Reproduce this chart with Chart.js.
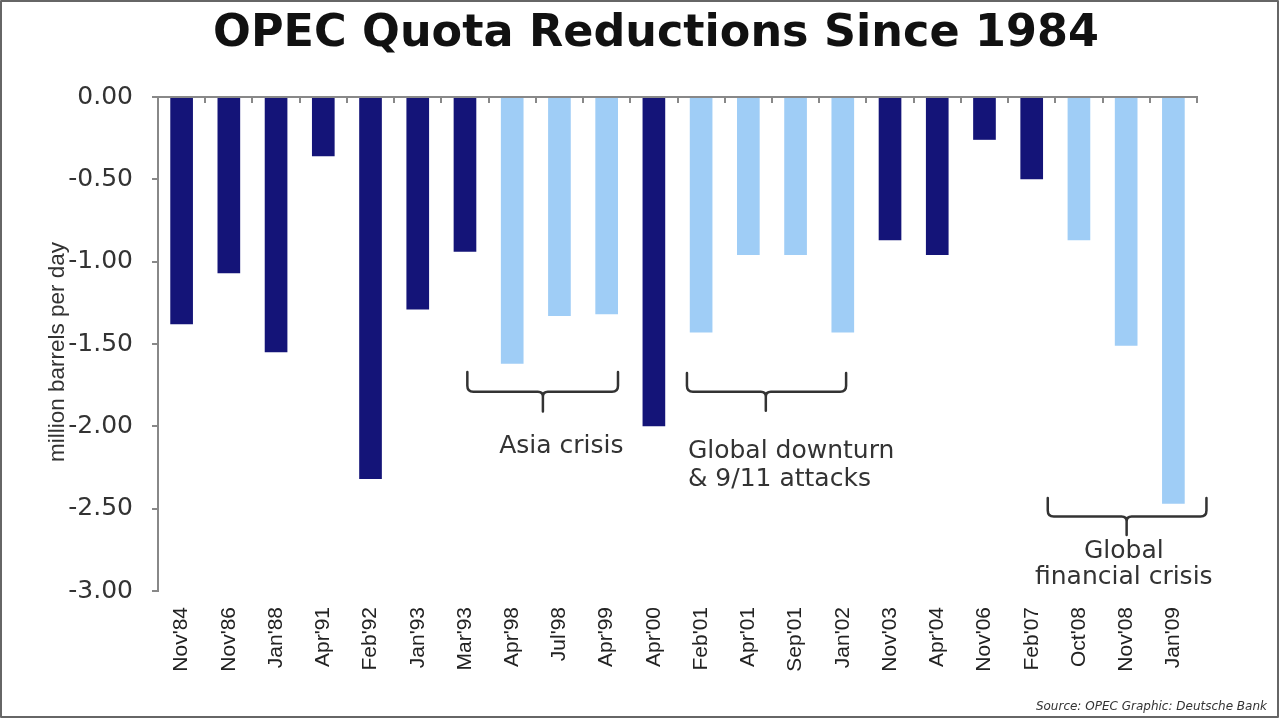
<!DOCTYPE html>
<html>
<head>
<meta charset="utf-8">
<script src="https://cdn.jsdelivr.net/npm/chart.js@4.4.1/dist/chart.umd.min.js"></script>
<style>
  html, body { margin: 0; padding: 0; background: #ffffff; }
  #wrap { width: 1280px; height: 720px; position: relative; }
</style>
</head>
<body>
<div id="wrap"><canvas id="c" width="1280" height="720"></canvas></div>
<script>
// ---- Data ----
const categories = ["Nov'84","Nov'86","Jan'88","Apr'91","Feb'92","Jan'93","Mar'93","Apr'98","Jul'98","Apr'99","Apr'00","Feb'01","Apr'01","Sep'01","Jan'02","Nov'03","Apr'04","Nov'06","Feb'07","Oct'08","Nov'08","Jan'09"];
const quotaCuts = [-1.38,-1.07,-1.55,-0.36,-2.32,-1.29,-0.94,-1.62,-1.33,-1.32,-2.00,-1.43,-0.96,-0.96,-1.43,-0.87,-0.96,-0.26,-0.50,-0.87,-1.51,-2.47];
const crisisPeriod = [false,false,false,false,false,false,false,true,true,true,false,true,true,true,true,false,false,false,false,true,true,true];
const yTicks = [0,-0.5,-1,-1.5,-2,-2.5,-3];
const chartTitle = 'OPEC Quota Reductions Since 1984';
const yTitle = 'million barrels per day';
const sourceNote = 'Source: OPEC Graphic: Deutsche Bank';
const crisisLabels = [["Asia crisis"],["Global downturn","& 9/11 attacks"],["Global","financial crisis"]];

// ---- Annotation geometry (in data units: category index / value) ----
const braces = [
  {x1: 6.05, x2: 9.24, stem: 7.65, top: -1.67, mid: -1.79, bot: -1.91,
   text: {x: 8.04, ys: [-2.125], align: 'center'}},
  {x1: 10.70, x2: 14.07, stem: 12.37, top: -1.676, mid: -1.79, bot: -1.905,
   text: {x: 10.72, ys: [-2.155, -2.32], align: 'left'}},
  {x1: 18.34, x2: 21.70, stem: 20.01, top: -2.435, mid: -2.548, bot: -2.66,
   text: {x: 19.95, ys: [-2.76, -2.915], align: 'center'}}
];

const DARK = '#141478';
const LIGHT = '#9fcdf6';
const AXIS = '#888888';

const CHART_LEFT = 158, CHART_RIGHT = 1197, CHART_TOP = 97, CHART_BOTTOM = 591;

const annotationPlugin = {
  id: 'annot',
  afterDatasetsDraw(chart) {
    const {ctx, chartArea, scales: {x, y}} = chart;
    ctx.save();
    // title
    ctx.fillStyle = '#111111';
    ctx.font = 'bold 44.5px "DejaVu Sans"';
    ctx.textAlign = 'center';
    ctx.textBaseline = 'middle';
    ctx.fillText(chartTitle, 656, 34);

    // top axis line at zero with boundary ticks
    const y0 = y.getPixelForValue(0);
    ctx.strokeStyle = AXIS;
    ctx.lineWidth = 2;
    ctx.beginPath();
    ctx.moveTo(chartArea.left, y0);
    ctx.lineTo(chartArea.right + 1, y0);
    ctx.stroke();
    ctx.beginPath();
    for (let i = 1; i <= categories.length; i++) {
      const bx = Math.round(x.getPixelForValue(i - 0.5));
      ctx.moveTo(bx, y0);
      ctx.lineTo(bx, y0 + 6);
    }
    ctx.stroke();

    // braces
    ctx.strokeStyle = '#333333';
    ctx.lineWidth = 2.5;
    ctx.lineJoin = 'round';
    ctx.lineCap = 'round';
    braces.forEach((b, k) => {
      const L = x.getPixelForValue(b.x1), R = x.getPixelForValue(b.x2), S = x.getPixelForValue(b.stem);
      const T = y.getPixelForValue(b.top), M = y.getPixelForValue(b.mid), B = y.getPixelForValue(b.bot);
      const r = 6, r2 = 5;
      ctx.beginPath();
      ctx.moveTo(L, T);
      ctx.lineTo(L, M - r);
      ctx.quadraticCurveTo(L, M, L + r, M);
      ctx.lineTo(S - r2, M);
      ctx.quadraticCurveTo(S, M, S, M + r2);
      ctx.lineTo(S, B);
      ctx.moveTo(S, M + r2);
      ctx.quadraticCurveTo(S, M, S + r2, M);
      ctx.lineTo(R - r, M);
      ctx.quadraticCurveTo(R, M, R, M - r);
      ctx.lineTo(R, T);
      ctx.stroke();

      ctx.fillStyle = '#333333';
      ctx.font = '25px "DejaVu Sans"';
      ctx.textAlign = b.text.align;
      ctx.textBaseline = 'middle';
      const tx = x.getPixelForValue(b.text.x);
      crisisLabels[k].forEach((line, j) => {
        ctx.fillText(line, tx, y.getPixelForValue(b.text.ys[j]));
      });
    });

    // y-axis title
    ctx.save();
    ctx.translate(58, 352);
    ctx.rotate(-Math.PI / 2);
    ctx.fillStyle = '#333333';
    ctx.font = '22.5px "Liberation Sans"';
    ctx.textAlign = 'center';
    ctx.textBaseline = 'middle';
    ctx.fillText(yTitle, 0, 0);
    ctx.restore();

    // source
    ctx.fillStyle = '#333333';
    ctx.font = 'italic 12px "DejaVu Sans"';
    ctx.textAlign = 'right';
    ctx.textBaseline = 'middle';
    ctx.fillText(sourceNote, 1267, 707);

    // frame
    ctx.strokeStyle = '#666666';
    ctx.lineWidth = 2;
    ctx.strokeRect(1, 1, 1277, 716);
    ctx.restore();
  }
};

const bgPlugin = {
  id: 'bg',
  beforeDraw(chart) {
    const {ctx} = chart;
    ctx.save();
    ctx.fillStyle = '#ffffff';
    ctx.fillRect(0, 0, chart.width, chart.height);
    ctx.restore();
  }
};

new Chart(document.getElementById('c'), {
  type: 'bar',
  data: {
    labels: categories,
    datasets: [{
      label: 'Quota reduction',
      data: quotaCuts,
      backgroundColor: crisisPeriod.map(c => c ? LIGHT : DARK),
      borderWidth: 0,
      categoryPercentage: 1.0,
      barPercentage: 0.48
    }]
  },
  options: {
    responsive: false,
    animation: false,
    devicePixelRatio: 1,
    layout: { padding: { left: 45, right: 1280 - CHART_RIGHT, top: CHART_TOP, bottom: 0 } },
    plugins: {
      legend: { display: false },
      tooltip: { enabled: false },
      title: { display: false }
    },
    scales: {
      x: {
        position: 'bottom',
        grid: { display: false, drawTicks: false, tickLength: 0 },
        border: { display: false },
        ticks: {
          color: '#222222',
          font: { family: '"Liberation Sans"', size: 21 },
          minRotation: 90, maxRotation: 90,
          autoSkip: false,
          padding: 16
        },
        afterFit(scale) { scale.height = 720 - CHART_BOTTOM; }
      },
      y: {
        min: -3, max: 0,
        afterBuildTicks(scale) { scale.ticks = yTicks.map(v => ({ value: v })); },
        grid: { drawOnChartArea: false, drawTicks: true, tickLength: 6, color: AXIS, lineWidth: 2 },
        border: { display: true, color: AXIS, width: 2 },
        ticks: {
          color: '#333333',
          font: { family: '"DejaVu Sans"', size: 25 },
          padding: 19,
          callback: v => (Math.abs(v) < 1e-9 ? 0 : v).toFixed(2)
        },
        afterFit(scale) { scale.width = CHART_LEFT - 45; }
      }
    }
  },
  plugins: [bgPlugin, annotationPlugin]
});
</script>
</body>
</html>
